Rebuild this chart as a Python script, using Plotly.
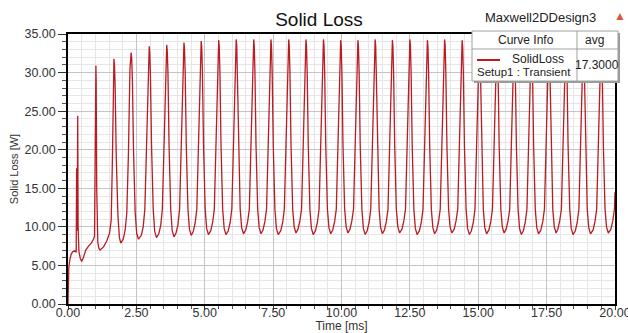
import plotly.graph_objects as go

# ---- data (time in ms, solid loss in W) ----
TIME_MS = [
    0.00, 0.005, 0.03, 0.07, 0.12, 0.18, 0.25, 0.30, 0.315, 0.325, 0.34, 0.355, 0.37, 0.40, 0.45, 0.50,
    0.56, 0.65, 0.75, 0.85, 0.93, 0.97, 0.995, 1.01, 1.02, 1.03, 1.05, 1.09, 1.13, 1.17,
    1.30, 1.42, 1.52, 1.58, 1.62, 1.655, 1.67, 1.68, 1.70, 1.725, 1.765, 1.825, 1.88, 1.93,
    2.02, 2.09, 2.15, 2.21, 2.265, 2.295, 2.31, 2.33, 2.355, 2.395, 2.455, 2.51, 2.575,
    2.68, 2.75, 2.81, 2.87, 2.925, 2.955, 2.97, 2.99, 3.015, 3.055, 3.115, 3.17, 3.235,
    3.32, 3.39, 3.45, 3.51, 3.565, 3.595, 3.61, 3.63, 3.655, 3.695, 3.755, 3.81, 3.875,
    3.95, 4.02, 4.08, 4.14, 4.195, 4.225, 4.24, 4.26, 4.285, 4.325, 4.385, 4.44, 4.505,
    4.58, 4.65, 4.71, 4.77, 4.825, 4.855, 4.87, 4.89, 4.915, 4.955, 5.015, 5.07, 5.135,
    5.22, 5.29, 5.35, 5.41, 5.465, 5.495, 5.51, 5.53, 5.555, 5.595, 5.655, 5.71, 5.775,
    5.86, 5.93, 5.99, 6.05, 6.105, 6.135, 6.15, 6.17, 6.195, 6.235, 6.295, 6.35, 6.415,
    6.50, 6.57, 6.63, 6.69, 6.745, 6.775, 6.79, 6.81, 6.835, 6.875, 6.935, 6.99, 7.055,
    7.13, 7.20, 7.26, 7.32, 7.375, 7.405, 7.42, 7.44, 7.465, 7.505, 7.565, 7.62, 7.685,
    7.78, 7.85, 7.91, 7.97, 8.025, 8.055, 8.07, 8.09, 8.115, 8.155, 8.215, 8.27, 8.335,
    8.41, 8.48, 8.54, 8.60, 8.655, 8.685, 8.70, 8.72, 8.745, 8.785, 8.845, 8.90, 8.965,
    9.05, 9.12, 9.18, 9.24, 9.295, 9.325, 9.34, 9.36, 9.385, 9.425, 9.485, 9.54, 9.605,
    9.68, 9.75, 9.81, 9.87, 9.925, 9.955, 9.97, 9.99, 10.015, 10.055, 10.115, 10.17, 10.235,
    10.31, 10.38, 10.44, 10.50, 10.555, 10.585, 10.60, 10.62, 10.645, 10.685, 10.745, 10.80, 10.865,
    10.94, 11.01, 11.07, 11.13, 11.185, 11.215, 11.23, 11.25, 11.275, 11.315, 11.375, 11.43, 11.495,
    11.57, 11.64, 11.70, 11.76, 11.815, 11.845, 11.86, 11.88, 11.905, 11.945, 12.005, 12.06, 12.125,
    12.21, 12.28, 12.34, 12.40, 12.455, 12.485, 12.50, 12.52, 12.545, 12.585, 12.645, 12.70, 12.765,
    12.85, 12.92, 12.98, 13.04, 13.095, 13.125, 13.14, 13.16, 13.185, 13.225, 13.285, 13.34, 13.405,
    13.48, 13.55, 13.61, 13.67, 13.725, 13.755, 13.77, 13.79, 13.815, 13.855, 13.915, 13.97, 14.035,
    14.12, 14.19, 14.25, 14.31, 14.365, 14.395, 14.41, 14.43, 14.455, 14.495, 14.555, 14.61, 14.675,
    14.75, 14.82, 14.88, 14.94, 14.995, 15.025, 15.04, 15.06, 15.085, 15.125, 15.185, 15.24, 15.305,
    15.39, 15.46, 15.52, 15.58, 15.635, 15.665, 15.68, 15.70, 15.725, 15.765, 15.825, 15.88, 15.945,
    16.02, 16.09, 16.15, 16.21, 16.265, 16.295, 16.31, 16.33, 16.355, 16.395, 16.455, 16.51, 16.575,
    16.65, 16.72, 16.78, 16.84, 16.895, 16.925, 16.94, 16.96, 16.985, 17.025, 17.085, 17.14, 17.205,
    17.29, 17.36, 17.42, 17.48, 17.535, 17.565, 17.58, 17.60, 17.625, 17.665, 17.725, 17.78, 17.845,
    17.91, 17.98, 18.04, 18.10, 18.155, 18.185, 18.20, 18.22, 18.245, 18.285, 18.345, 18.40, 18.465,
    18.55, 18.62, 18.68, 18.74, 18.795, 18.825, 18.84, 18.86, 18.885, 18.925, 18.985, 19.04, 19.105,
    19.20, 19.27, 19.33, 19.39, 19.445, 19.475, 19.49, 19.51, 19.535, 19.575, 19.635, 19.69, 19.755,
    19.85, 19.92, 19.98, 20.00,
]
SOLID_LOSS_W = [
    0.0, 4.0, 4.8, 5.8, 6.5, 6.8, 6.9, 6.7, 17.6, 9.5, 12.0, 24.4, 10.0, 6.8, 5.9, 5.5,
    6.0, 7.0, 7.5, 7.9, 8.4, 8.8, 20.0, 30.0, 30.9, 29.0, 15.0, 8.0, 7.2, 7.0,
    7.4, 8.2, 9.2, 10.9, 18.0, 29.5, 31.4, 31.8, 31.0, 28.0, 19.0, 11.5, 8.6, 7.9,
    8.4, 9.6, 11.8, 19.5, 30.5, 32.2, 32.6, 31.8, 29.0, 20.0, 12.0, 9.2, 8.4,
    8.9, 10.0, 12.3, 20.5, 30.8, 33.0, 33.4, 32.6, 29.5, 20.5, 12.3, 9.4, 8.6,
    9.1, 10.2, 12.3, 20.5, 30.5, 33.2, 33.6, 32.8, 30.0, 20.5, 12.3, 9.5, 8.7,
    9.2, 10.3, 12.3, 20.5, 30.5, 33.5, 33.9, 33.1, 30.0, 20.5, 12.3, 9.7, 8.9,
    9.4, 10.5, 12.3, 20.5, 30.5, 33.7, 34.1, 33.3, 30.0, 20.5, 12.3, 9.8, 9.0,
    9.5, 10.6, 12.3, 20.5, 30.5, 33.8, 34.2, 33.4, 30.0, 20.5, 12.3, 9.8, 9.0,
    9.5, 10.6, 12.3, 20.5, 30.5, 33.9, 34.3, 33.5, 30.0, 20.5, 12.3, 9.9, 9.1,
    9.6, 10.7, 12.3, 20.5, 30.5, 33.9, 34.3, 33.5, 30.0, 20.5, 12.3, 9.9, 9.1,
    9.6, 10.7, 12.3, 20.5, 30.5, 33.9, 34.3, 33.5, 30.0, 20.5, 12.3, 9.8, 9.0,
    9.5, 10.6, 12.3, 20.5, 30.5, 33.9, 34.3, 33.5, 30.0, 20.5, 12.3, 10.0, 9.2,
    9.7, 10.8, 12.3, 20.5, 30.5, 33.9, 34.3, 33.5, 30.0, 20.5, 12.3, 9.8, 9.0,
    9.5, 10.6, 12.3, 20.5, 30.5, 33.9, 34.3, 33.5, 30.0, 20.5, 12.3, 9.9, 9.1,
    9.6, 10.7, 12.3, 20.5, 30.5, 33.8, 34.2, 33.4, 30.0, 20.5, 12.3, 10.0, 9.2,
    9.7, 10.8, 12.3, 20.5, 30.5, 33.8, 34.2, 33.4, 30.0, 20.5, 12.3, 9.8, 9.0,
    9.5, 10.6, 12.3, 20.5, 30.5, 33.9, 34.3, 33.5, 30.0, 20.5, 12.3, 9.9, 9.1,
    9.6, 10.7, 12.3, 20.5, 30.5, 33.8, 34.2, 33.4, 30.0, 20.5, 12.3, 10.0, 9.2,
    9.7, 10.8, 12.3, 20.5, 30.5, 33.9, 34.3, 33.5, 30.0, 20.5, 12.3, 9.8, 9.0,
    9.5, 10.6, 12.3, 20.5, 30.5, 33.8, 34.2, 33.4, 30.0, 20.5, 12.3, 9.9, 9.1,
    9.6, 10.7, 12.3, 20.5, 30.5, 33.9, 34.3, 33.5, 30.0, 20.5, 12.3, 10.0, 9.2,
    9.7, 10.8, 12.3, 20.5, 30.5, 33.8, 34.2, 33.4, 30.0, 20.5, 12.3, 9.8, 9.0,
    9.5, 10.6, 12.3, 20.5, 30.5, 33.9, 34.3, 33.5, 30.0, 20.5, 12.3, 9.9, 9.1,
    9.6, 10.7, 12.3, 20.5, 30.5, 33.8, 34.2, 33.4, 30.0, 20.5, 12.3, 10.0, 9.2,
    9.7, 10.8, 12.3, 20.5, 30.5, 33.9, 34.3, 33.5, 30.0, 20.5, 12.3, 9.8, 9.0,
    9.5, 10.6, 12.3, 20.5, 30.5, 33.8, 34.2, 33.4, 30.0, 20.5, 12.3, 9.9, 9.1,
    9.6, 10.7, 12.3, 20.5, 30.5, 33.9, 34.3, 33.5, 30.0, 20.5, 12.3, 10.0, 9.2,
    9.7, 10.8, 12.3, 20.5, 30.5, 33.8, 34.2, 33.4, 30.0, 20.5, 12.3, 9.8, 9.0,
    9.5, 10.6, 12.3, 20.5, 30.5, 33.9, 34.3, 33.5, 30.0, 20.5, 12.3, 9.9, 9.1,
    9.6, 10.7, 12.3, 20.5, 30.5, 33.8, 34.2, 33.4, 30.0, 20.5, 12.3, 10.0, 9.2,
    9.7, 10.8, 12.3, 14.5,
]

X_TICKS = [0, 2.5, 5, 7.5, 10, 12.5, 15, 17.5, 20]
X_TICK_LABELS = ["0.00", "2.50", "5.00", "7.50", "10.00", "12.50", "15.00", "17.50", "20.00"]
Y_TICKS = [0, 5, 10, 15, 20, 25, 30, 35]
Y_TICK_LABELS = ["0.00", "5.00", "10.00", "15.00", "20.00", "25.00", "30.00", "35.00"]

CURVE_NAME = "SolidLoss"
CURVE_SETUP = "Setup1 : Transient"
CURVE_AVG = "17.3000"

LINE_COLOR = "rgb(185,28,34)"
FONT = "Liberation Sans, Arial, sans-serif"

W, H = 628, 333
ML, MR, MT, MB = 68, 13, 34, 29
PW, PH = W - ML - MR, H - MT - MB


def px(x):
    return (x - ML) / PW


def py(y):
    return (H - MB - y) / PH


fig = go.Figure()
fig.add_trace(go.Scatter(
    x=TIME_MS, y=SOLID_LOSS_W, mode="lines", name=CURVE_NAME,
    line=dict(color=LINE_COLOR, width=1.3), showlegend=False,
))

axis_common = dict(
    showline=True, linecolor="black", linewidth=1.5, mirror=True,
    ticks="outside", tickcolor="#333333",
    showgrid=True, gridcolor="#c4c4c4", gridwidth=1,
    zeroline=False, automargin=False, ticklabeloverflow="allow",
    tickfont=dict(family=FONT, size=12.5, color="#333333"),
)

fig.update_xaxes(
    **axis_common,
    range=[0, 20], tickmode="array", tickvals=X_TICKS, ticktext=X_TICK_LABELS,
    ticklen=4, ticklabelstandoff=-8,
    minor=dict(dtick=0.5, showgrid=True, gridcolor="#e6e6e6", ticks="outside", ticklen=3, tickcolor="#555555"),
    title=dict(text="Time [ms]", font=dict(family=FONT, size=12, color="#333333"), standoff=3),
)
fig.update_yaxes(
    **axis_common,
    range=[0, 35], tickmode="array", tickvals=Y_TICKS, ticktext=Y_TICK_LABELS,
    ticklen=8,
    minor=dict(dtick=1, showgrid=True, gridcolor="#e6e6e6", ticks="outside", ticklen=4, tickcolor="#555555"),
    title=dict(text="Solid Loss [W]", font=dict(family=FONT, size=11, color="#333333"), standoff=4),
)

shapes = []
# legend shadow and box
shapes.append(dict(type="rect", xref="paper", yref="paper", layer="above",
                   x0=px(474), x1=px(620), y0=py(83), y1=py(33),
                   fillcolor="#9a9a9a", line=dict(width=0)))
shapes.append(dict(type="rect", xref="paper", yref="paper", layer="above",
                   x0=px(472), x1=px(618), y0=py(81), y1=py(31),
                   fillcolor="white", line=dict(color="#a0a0a0", width=1)))
shapes.append(dict(type="line", xref="paper", yref="paper", layer="above",
                   x0=px(472), x1=px(618), y0=py(49), y1=py(49),
                   line=dict(color="#a0a0a0", width=1)))
shapes.append(dict(type="line", xref="paper", yref="paper", layer="above",
                   x0=px(577), x1=px(577), y0=py(31), y1=py(81),
                   line=dict(color="#a0a0a0", width=1)))
shapes.append(dict(type="line", xref="paper", yref="paper", layer="above",
                   x0=px(477), x1=px(500), y0=py(60), y1=py(60),
                   line=dict(color=LINE_COLOR, width=2)))
fig.update_layout(shapes=shapes)

ann_font = dict(family=FONT, size=12, color="#222222")
annotations = [
    dict(text="Maxwell2DDesign3", x=px(540), y=py(18), font=dict(family=FONT, size=13, color="#222222")),
    dict(text="▲", x=px(620), y=py(16), font=dict(family=FONT, size=12, color="#e0553a")),
    dict(text="Curve Info", x=px(526), y=py(40), font=ann_font),
    dict(text="avg", x=px(594), y=py(40), font=ann_font),
    dict(text=CURVE_NAME, x=px(538), y=py(59), font=ann_font),
    dict(text=CURVE_SETUP, x=px(524), y=py(72), font=dict(family=FONT, size=11.5, color="#222222")),
    dict(text=CURVE_AVG, x=px(597), y=py(65), font=ann_font),
]
for a in annotations:
    a.update(xref="paper", yref="paper", showarrow=False, xanchor="center", yanchor="middle")
fig.update_layout(annotations=annotations)

fig.update_layout(
    width=W, height=H,
    margin=dict(l=ML, r=MR, t=MT, b=MB),
    paper_bgcolor="white", plot_bgcolor="white",
    title=dict(text="Solid Loss", x=319 / W, xanchor="center", y=1 - 19 / H, yanchor="middle",
               xref="container", yref="container",
               font=dict(family=FONT, size=19, color="#111111")),
)

fig.write_html("out.html", config={"displayModeBar": False},
               post_script="document.body.style.margin='0';")
